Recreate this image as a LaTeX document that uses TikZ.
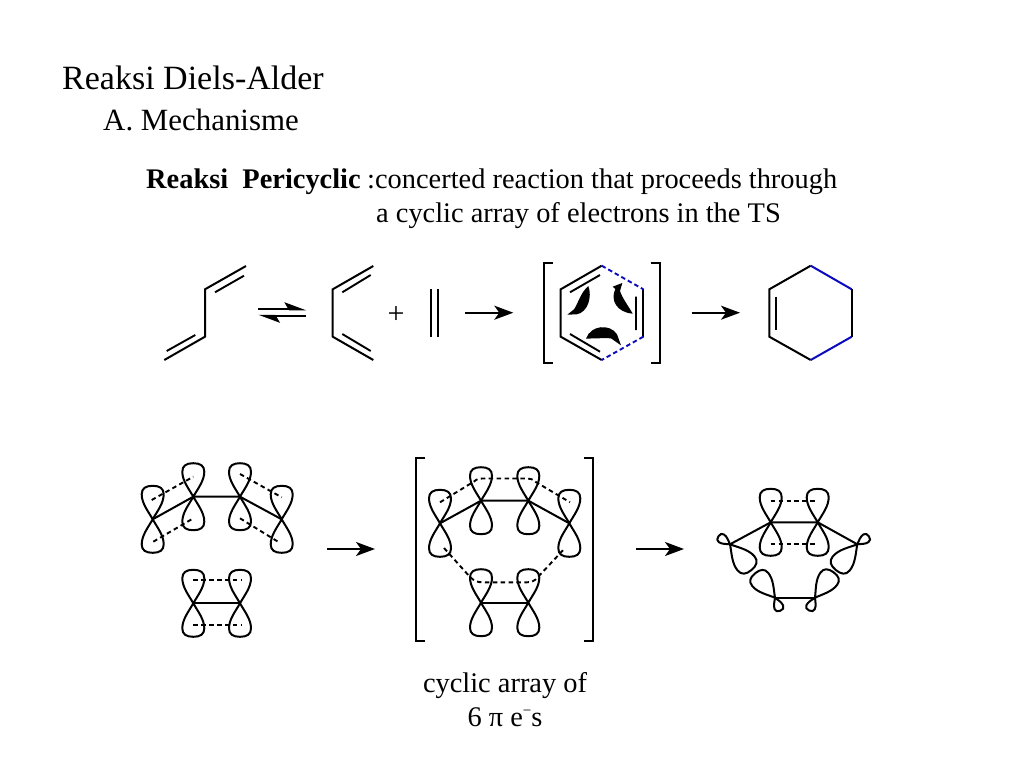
\documentclass[tikz,border=0pt]{standalone}
\usepackage{fontspec}
\setmainfont{Liberation Serif}
\usetikzlibrary{arrows.meta}
\newcommand{\fsA}{\fontsize{34}{36}\selectfont}
\newcommand{\fsS}{\fontsize{30.9}{34}\selectfont}
\newcommand{\fsB}{\fontsize{28.4}{34}\selectfont}
\definecolor{bondblue}{RGB}{10,10,190}
\tikzset{
  bond/.style={line width=2pt,line cap=butt,line join=miter},
  dbl/.style={line width=1.9pt},
  bbond/.style={line width=2pt,draw=bondblue},
  bdash/.style={line width=1.9pt,draw=bondblue,dash pattern=on 4.5pt off 3pt},
  pidash/.style={line width=1.9pt,dash pattern=on 4.5pt off 3.4pt},
  brk/.style={line width=2pt},
  rxn/.style={line width=2pt,-{Stealth[length=19pt,width=14pt,inset=5pt]}},
  harp/.style={line width=1.9pt,-{Stealth[harpoon,length=19pt,width=14pt,inset=4pt]}},
  lbl/.style={inner sep=0pt,anchor=base west},
  lblc/.style={inner sep=0pt,anchor=base},
  pics/lobe/.style={code={
    \draw[line width=2pt,line join=round] (0,0) .. controls (-4.5,-8) and (-11,-16) .. (-11,-25)
      .. controls (-11,-31) and (-7,-33.5) .. (0,-33.5)
      .. controls (7,-33.5) and (11,-31) .. (11,-25)
      .. controls (11,-16) and (4.5,-8) .. (0,0) -- cycle;
  }}
}
\begin{document}
\begin{tikzpicture}[x=1pt,y=-1pt]
\fill[white] (0,0) rectangle (1024,768);
\useasboundingbox (0,0) rectangle (1024,768);
% texts
\node[lbl] (title) at (62,89) {\fsA Reaksi Diels-Alder};
\node[lbl] (sub) at (103,130) {\fsS A. Mechanisme};
\node[lbl] (per) at (146,188) {\fsB\textbf{Reaksi\ \ Pericyclic}};
\node[lbl] (def1) at (367,188) {\fsB :concerted reaction that proceeds through};
\node[lbl] (def2) at (376,222) {\fsB a cyclic array of electrons in the TS};
\node[lblc] (cap1) at (505,692) {\fsB cyclic array of};
\node[lblc] (cap2) at (505,726) {\fsB 6 π e\raisebox{0.36em}{\fontsize{15}{15}\selectfont −}s};
\node[inner sep=0pt] (plus) at (396,315) {\fontsize{30}{30}\selectfont +};
% s-trans diene
\coordinate (t1) at (164.3,360); \coordinate (t2) at (205,336.7);
\coordinate (t3) at (205,289.3); \coordinate (t4) at (246,266);
\coordinate (t1i) at (166.7,351); \coordinate (t2i) at (195.3,335);
\coordinate (t3i) at (215,292.3); \coordinate (t4i) at (244,275.7);
\draw[bond] (t1) -- (t2) -- (t3) -- (t4);
\draw[dbl] (t1i) -- (t2i) (t3i) -- (t4i);
% equilibrium
\coordinate (e1) at (258.3,309.3); \coordinate (e2) at (306,309.3);
\coordinate (e3) at (306,315.7); \coordinate (e4) at (258.3,315.7);
\draw[harp] (e1) -- (e2);
\draw[harp] (e3) -- (e4);
% s-cis diene
\coordinate (c1) at (373.3,266); \coordinate (c2) at (332.7,289.3);
\coordinate (c3) at (332.7,336.7); \coordinate (c4) at (373.3,360);
\coordinate (c1i) at (370.7,275); \coordinate (c2i) at (342.3,292.3);
\coordinate (c3i) at (342.3,334); \coordinate (c4i) at (370.7,351);
\draw[bond] (c1) -- (c2) -- (c3) -- (c4);
\draw[dbl] (c1i) -- (c2i) (c3i) -- (c4i);
% ethylene
\coordinate (y1) at (430.7,289.3); \coordinate (y2) at (430.7,336.7);
\coordinate (y3) at (438.3,289.3); \coordinate (y4) at (438.3,336.7);
\draw[dbl] (y1) -- (y2) (y3) -- (y4);
% arrows
\coordinate (a1s) at (465,312.7); \coordinate (a1e) at (513.3,312.7);
\coordinate (a2s) at (691.7,312.7); \coordinate (a2e) at (740,312.7);
\coordinate (a3s) at (327,549); \coordinate (a3e) at (375,549);
\coordinate (a4s) at (636,549); \coordinate (a4e) at (684,549);
\draw[rxn] (a1s) -- (a1e);
\draw[rxn] (a2s) -- (a2e);
\draw[rxn] (a3s) -- (a3e);
\draw[rxn] (a4s) -- (a4e);
% TS ring
\coordinate (h1) at (601.7,265.7); \coordinate (h2) at (643.3,289.3);
\coordinate (h3) at (643.3,336.7); \coordinate (h4) at (601.7,360);
\coordinate (h5) at (560.7,336.7); \coordinate (h6) at (560.7,289.3);
\draw[bond] (h4) -- (h5) -- (h6) -- (h1);
\draw[bond] (h2) -- (h3);
\draw[bdash] (h1) -- (h2);
\draw[bdash] (h3) -- (h4);
\coordinate (hi1) at (570,292.3); \coordinate (hi2) at (600,275);
\coordinate (hi3) at (570,334); \coordinate (hi4) at (600,351.7);
\coordinate (hi5) at (636,296.7); \coordinate (hi6) at (636,330);
\draw[dbl] (hi1) -- (hi2) (hi3) -- (hi4) (hi5) -- (hi6);
% TS brackets
\coordinate (bl1) at (552.7,262.7); \coordinate (bl2) at (544,262.7);
\coordinate (bl3) at (544,363.3); \coordinate (bl4) at (552.7,363.3);
\coordinate (br1) at (650.7,262.7); \coordinate (br2) at (660,262.7);
\coordinate (br3) at (660,363.3); \coordinate (br4) at (650.7,363.3);
\draw[brk] (bl1) -- (bl2) -- (bl3) -- (bl4);
\draw[brk] (br1) -- (br2) -- (br3) -- (br4);
% curved electron arrows
\begin{scope}[shift={(560,275)},x=0.3333pt,y=-0.3333pt]
\fill (85,33) .. controls (97,65) and (84,112) .. (50,118) -- (22,119) -- (42,103)
  .. controls (55,85) and (60,55) .. (85,33) -- cycle;
\fill (218,116) .. controls (170,112) and (150,75) .. (166,42) -- (158,35) -- (187,24) -- (180,48)
  .. controls (188,72) and (205,92) .. (218,116) -- cycle;
\fill (78,191) .. controls (92,150) and (150,145) .. (171,178) -- (183,211) -- (153,190)
  .. controls (135,189) and (105,190) .. (78,191) -- cycle;
\end{scope}
% product ring
\coordinate (p1) at (810.7,265.7); \coordinate (p2) at (851.7,289.3);
\coordinate (p3) at (851.7,336.7); \coordinate (p4) at (810.7,360);
\coordinate (p5) at (769.3,336.7); \coordinate (p6) at (769.3,289.3);
\draw[bond] (p4) -- (p5) -- (p6) -- (p1);
\draw[bond] (p2) -- (p3);
\draw[bbond] (p1) -- (p2);
\draw[bbond] (p3) -- (p4);
\coordinate (pi1) at (776,296.7); \coordinate (pi2) at (776,330);
\draw[dbl] (pi1) -- (pi2);
% === orbitals: left reactants
\coordinate (L1) at (152.7,519.3); \coordinate (L2) at (193.3,496.7);
\coordinate (L3) at (240,496.7); \coordinate (L4) at (281.7,519.3);
\coordinate (L5) at (193.3,603.3); \coordinate (L6) at (240,603.3);
\foreach \a in {L1,L2,L3,L4,L5,L6} {
  \pic at (\a) {lobe};
  \pic[rotate=180] at (\a) {lobe};
}
\draw[bond] (L1) -- (L2) -- (L3) -- (L4);
\draw[bond] (L5) -- (L6);
\coordinate (d1) at (151.7,500); \coordinate (d2) at (193.3,476.7);
\coordinate (d3) at (153.3,541.7); \coordinate (d4) at (193.3,518.3);
\coordinate (d5) at (240,474); \coordinate (d6) at (281.7,497.3);
\coordinate (d7) at (240,518.3); \coordinate (d8) at (278,541.7);
\coordinate (d9) at (193.3,580); \coordinate (d10) at (241.7,580);
\coordinate (d11) at (193.3,625); \coordinate (d12) at (241.7,625);
\draw[pidash] (d1) -- (d2);
\draw[pidash] (d3) -- (d4);
\draw[pidash] (d5) -- (d6);
\draw[pidash] (d7) -- (d8);
\draw[pidash] (d9) -- (d10);
\draw[pidash] (d11) -- (d12);
% === orbitals: transition state
\coordinate (M1) at (440,523.3); \coordinate (M2) at (481,500.7);
\coordinate (M3) at (528.3,500.7); \coordinate (M4) at (569.3,523.3);
\coordinate (M5) at (481,602.7); \coordinate (M6) at (528.3,602.7);
\foreach \a in {M1,M2,M3,M4,M5,M6} {
  \pic at (\a) {lobe};
  \pic[rotate=180] at (\a) {lobe};
}
\draw[bond] (M1) -- (M2) -- (M3) -- (M4);
\draw[bond] (M5) -- (M6);
\coordinate (u1) at (440,502.3); \coordinate (u4) at (570,502.3);
\draw[pidash] (u1) -- (474,481.5) .. controls (477,479) and (479,478.5) .. (482,478.5)
  -- (527,478.5) .. controls (530,478.5) and (532,479) .. (535,481.5) -- (u4);
\coordinate (v1) at (444,548); \coordinate (v2) at (565,548);
\draw[pidash] (v1) -- (470,577) .. controls (474,581) and (478,582.3) .. (482,582.3)
  -- (527,582.3) .. controls (531,582.3) and (535,581) .. (538,577) -- (v2);
\coordinate (bm1) at (425,458.3); \coordinate (bm2) at (416,458.3);
\coordinate (bm3) at (416,640.7); \coordinate (bm4) at (425,640.7);
\coordinate (bm5) at (584.3,458.3); \coordinate (bm6) at (593.3,458.3);
\coordinate (bm7) at (593.3,640.7); \coordinate (bm8) at (584.3,640.7);
\draw[brk] (bm1) -- (bm2) -- (bm3) -- (bm4);
\draw[brk] (bm5) -- (bm6) -- (bm7) -- (bm8);
% === orbitals: product
\coordinate (R1) at (770.7,522.3); \coordinate (R2) at (817.7,522.3);
\coordinate (R3) at (730,544.3); \coordinate (R4) at (857.3,544.3);
\coordinate (R5) at (775,597.7); \coordinate (R6) at (815,597.7);
\foreach \a in {R1,R2} {
  \pic at (\a) {lobe};
  \pic[rotate=180] at (\a) {lobe};
}
\pic[rotate=-140] at (R3) {lobe};
\pic[rotate=55,scale=0.42] at (R3) {lobe};
\pic[rotate=140] at (R4) {lobe};
\pic[rotate=-55,scale=0.42] at (R4) {lobe};
\pic[rotate=39,scale=0.94] at (R5) {lobe};
\pic[rotate=-158,scale=0.42] at (R5) {lobe};
\pic[rotate=-36,scale=0.94] at (R6) {lobe};
\pic[rotate=155,scale=0.42] at (R6) {lobe};
\draw[bond] (R3) -- (R1) -- (R2) -- (R4);
\draw[bond] (R5) -- (R6);
\coordinate (w1) at (770.7,501); \coordinate (w2) at (818,501);
\coordinate (w3) at (770.7,543.7); \coordinate (w4) at (818,543.7);
\draw[pidash] (w1) -- (w2);
\draw[pidash] (w3) -- (w4);
\end{tikzpicture}
\end{document}
